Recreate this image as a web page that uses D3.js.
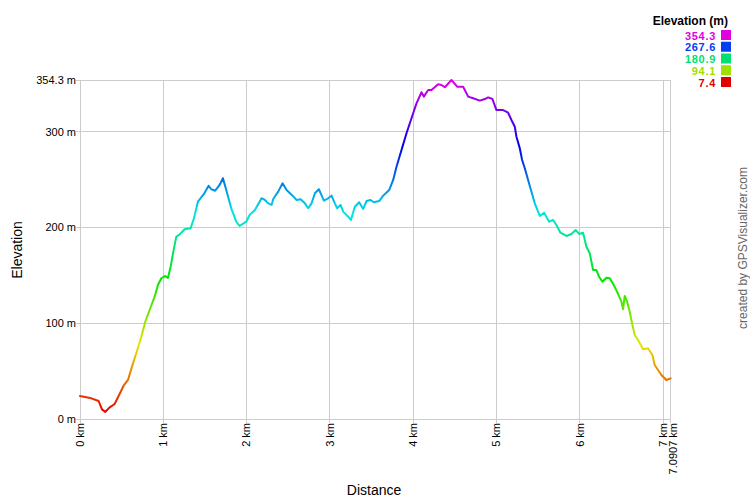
<!DOCTYPE html>
<html><head><meta charset="utf-8">
<script src="https://cdn.jsdelivr.net/npm/d3@7"></script>
<style>
body{margin:0;background:#fff;}
svg{display:block;font-family:"Liberation Sans",Arial,sans-serif;}
</style></head>
<body>
<svg id="chart" width="750" height="500"></svg>
<script>
const distanceKm = [0,0.136,0.224,0.264,0.304,0.356,0.416,0.456,0.528,0.576,0.624,0.688,0.736,0.784,0.836,0.896,0.936,0.976,1.024,1.056,1.088,1.128,1.156,1.196,1.256,1.328,1.368,1.416,1.488,1.544,1.576,1.624,1.676,1.716,1.756,1.816,1.876,1.916,1.996,2.036,2.100,2.180,2.220,2.260,2.300,2.320,2.380,2.432,2.480,2.552,2.600,2.648,2.700,2.740,2.780,2.820,2.868,2.928,2.980,3.020,3.060,3.088,3.128,3.160,3.220,3.252,3.300,3.352,3.400,3.440,3.488,3.528,3.592,3.640,3.712,3.760,3.800,3.860,3.920,3.960,4.000,4.040,4.100,4.128,4.180,4.220,4.300,4.340,4.380,4.460,4.528,4.600,4.660,4.720,4.800,4.860,4.900,4.952,5.000,5.080,5.140,5.180,5.220,5.240,5.280,5.308,5.340,5.380,5.420,5.460,5.520,5.572,5.632,5.680,5.720,5.768,5.840,5.900,5.952,5.992,6.040,6.080,6.120,6.160,6.200,6.232,6.272,6.320,6.360,6.408,6.448,6.500,6.520,6.540,6.568,6.600,6.632,6.660,6.700,6.760,6.820,6.872,6.900,6.940,6.980,7.040,7.0907];
const elevationM = [24.0,21.6,18.8,10.1,7.4,12.2,15.7,22.7,35.5,40.8,54.7,72.1,86.0,101.7,113.9,127.8,140.1,147.1,149.5,147.5,159.2,178.4,190.5,193.0,198.3,199.3,209.8,227.1,235.2,243.8,240.1,238.6,244.6,251.6,239.3,220.2,206.2,201.7,206.2,213.2,218.4,230.7,228.9,225.4,223.7,229.9,237.6,246.3,239.3,233.4,228.9,229.6,225.4,220.2,225.4,235.9,240.1,228.2,230.7,233.4,225.4,220.2,223.7,216.7,211.4,208.0,221.9,226.5,219.5,227.8,228.9,226.5,227.8,233.4,239.3,249.8,263.7,281.1,298.6,309.1,319.5,329.9,341.5,336.9,343.9,343.9,349.8,349.1,346.7,354.3,347.3,347.3,336.9,335.2,332.7,334.4,336.2,334.4,322.9,322.9,320.1,312.5,305.5,295.0,282.9,270.7,262.0,249.8,237.6,225.4,212.2,215.6,206.2,208.0,202.8,194.7,191.3,193.4,197.5,193.4,194.7,180.1,173.2,155.7,155.7,148.7,143.5,147.7,147.1,140.0,133.0,122.6,114.7,128.6,122.6,112.1,98.2,87.8,82.6,72.8,73.9,66.9,56.4,51.2,46.0,40.8,42.5];
const xTicks = [0,1,2,3,4,5,6,7,7.0907];
const xTickLabels = ["0 km","1 km","2 km","3 km","4 km","5 km","6 km","7 km","7.0907 km"];
const yTicks = [0,100,200,300,354.3];
const yTickLabels = ["0 m","100 m","200 m","300 m","354.3 m"];
const legendValues = [354.3,267.6,180.9,94.1,7.4];
const legendColors = ["#e000e0","#0040f0","#00e070","#a0e000","#e00000"];

const svg = d3.select("#chart");
const L = 80, R = 670.6, T = 80, B = 419;
const x = d3.scaleLinear().domain([0, 7.0907]).range([L, R]);
const y = d3.scaleLinear().domain([0, 354.3]).range([B, T]);
const grid = "#cccccc";

// gridlines
svg.append("g").selectAll("line").data(yTicks).join("line")
  .attr("x1", L - 4).attr("x2", R).attr("y1", d => y(d)).attr("y2", d => y(d))
  .attr("stroke", grid).attr("shape-rendering","crispEdges");
svg.append("g").selectAll("line").data(xTicks).join("line")
  .attr("x1", d => x(d)).attr("x2", d => x(d)).attr("y1", T).attr("y2", B + 4)
  .attr("stroke", grid).attr("shape-rendering","crispEdges");

// y labels
svg.append("g").selectAll("text").data(yTicks).join("text")
  .attr("x", L - 4).attr("y", d => y(d)).attr("dy","0.35em")
  .attr("text-anchor","end").attr("font-size", 11).attr("fill","#000")
  .text((d,i) => yTickLabels[i]);

// x labels (rotated)
svg.append("g").selectAll("text").data(xTicks).join("text")
  .attr("transform", (d,i) => `translate(${x(d) + (i === xTicks.length-1 ? 3 : 0)},${B + 4}) rotate(-90)`)
  .attr("dy","0.35em").attr("text-anchor","end").attr("font-size", 11).attr("fill","#000")
  .text((d,i) => xTickLabels[i]);

// axis titles
svg.append("text").attr("x", 374).attr("y", 495).attr("text-anchor","middle")
  .attr("font-size", 14).text("Distance");
svg.append("text").attr("transform","translate(22,250) rotate(-90)").attr("text-anchor","middle")
  .attr("font-size", 14).text("Elevation");

// gradient by elevation
const minE = 7.4, maxE = 354.3;
const defs = svg.append("defs");
const grad = defs.append("linearGradient").attr("id","elevGrad")
  .attr("gradientUnits","userSpaceOnUse")
  .attr("x1",0).attr("x2",0).attr("y1", y(minE)).attr("y2", y(maxE));
d3.range(0, 1.0001, 0.05).forEach(t => {
  grad.append("stop").attr("offset", t).attr("stop-color", d3.hsl(300 * t, 1, 0.45).formatHex());
});

const pts = distanceKm.map((d,i) => [d, elevationM[i]]);
const line = d3.line().x(d => x(d[0])).y(d => y(d[1]));
svg.append("path").datum(pts).attr("d", line)
  .attr("fill","none").attr("stroke","url(#elevGrad)").attr("stroke-width",2)
  .attr("stroke-linejoin","round").attr("stroke-linecap","round");

// legend
svg.append("text").attr("x", 728).attr("y", 25).attr("text-anchor","end")
  .attr("font-size", 12).attr("font-weight","bold").text("Elevation (m)");
const lg = svg.append("g").selectAll("g").data(legendValues).join("g")
  .attr("transform", (d,i) => `translate(0,${30 + i * 11.75})`);
lg.append("rect").attr("x", 721).attr("y", 0).attr("width", 10).attr("height", 10)
  .attr("fill", (d,i) => legendColors[i]);
lg.append("text").attr("x", 716).attr("y", 9.5).attr("text-anchor","end")
  .attr("font-size", 11).attr("letter-spacing", 0.7).attr("font-weight","bold").attr("fill", (d,i) => legendColors[i])
  .text(d => d.toFixed(1));

// credit
svg.append("text").attr("transform","translate(747,248) rotate(-90)").attr("text-anchor","middle")
  .attr("font-size", 12).attr("fill","#666").text("created by GPSVisualizer.com");
</script>
</body></html>
